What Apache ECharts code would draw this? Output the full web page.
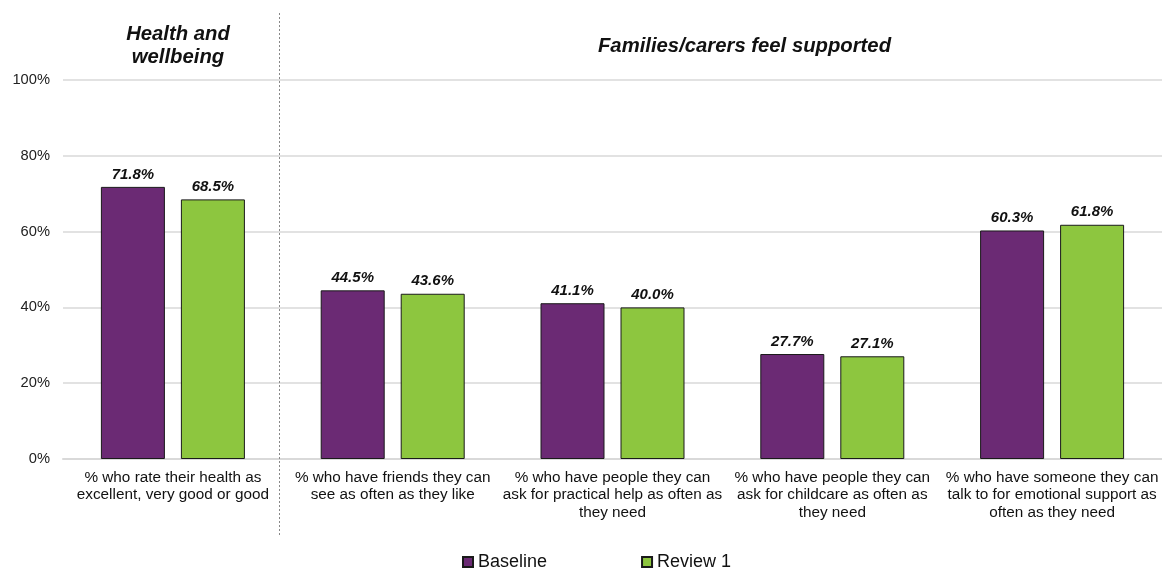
<!DOCTYPE html>
<html>
<head>
<meta charset="utf-8">
<script src="https://cdn.jsdelivr.net/npm/echarts@6/dist/echarts.min.js"></script>
<style>
  html, body { margin: 0; padding: 0; background: #fff; }
  #chart { width: 1162px; height: 572px; }
</style>
</head>
<body>
<div id="chart"></div>
<script>
// Survey indicators (share of respondents), baseline vs first review
const categories = [
  '% who rate their health as\nexcellent, very good or good',
  '% who have friends they can\nsee as often as they like',
  '% who have people they can\nask for practical help as often as\nthey need',
  '% who have people they can\nask for childcare as often as\nthey need',
  '% who have someone they can\ntalk to for emotional support as\noften as they need'
];
const baseline = [71.8, 44.5, 41.1, 27.7, 60.3];
const review1 = [68.5, 43.6, 40.0, 27.1, 61.8];
const yTicks = [0, 20, 40, 60, 80, 100];
const sectionTitles = ['Health and\nwellbeing', 'Families/carers feel supported'];

const FONT = '"Liberation Sans", Arial, sans-serif';
const chart = echarts.init(document.getElementById('chart'));

const labelStyle = {
  show: true,
  position: 'top',
  distance: 5,
  fontFamily: FONT,
  fontSize: 15,
  fontWeight: 'bold',
  fontStyle: 'italic',
  color: '#111',
  formatter: p => p.value.toFixed(1) + '%'
};

const titleStyle = {
  fontFamily: FONT,
  fontSize: 20.3,
  fontWeight: 'bold',
  fontStyle: 'italic',
  lineHeight: 23,
  fill: '#111',
  align: 'center',
  verticalAlign: 'middle'
};

chart.setOption({
  animation: false,
  textStyle: { fontFamily: FONT },
  grid: { left: 63, top: 80, width: 1104, height: 379, containLabel: false },
  legend: {
    top: 548,
    left: 457,
    itemWidth: 10,
    itemHeight: 10,
    itemGap: 94,
    icon: 'rect',
    textStyle: { fontFamily: FONT, fontSize: 18, color: '#111' },
    data: ['Baseline', 'Review 1']
  },
  xAxis: {
    type: 'category',
    data: categories,
    axisLine: { lineStyle: { color: '#d9d9d9', width: 2 } },
    axisTick: { show: false },
    axisLabel: {
      interval: 0,
      margin: 10,
      fontFamily: FONT,
      fontSize: 15.3,
      lineHeight: 17.5,
      color: '#111'
    }
  },
  yAxis: {
    type: 'value',
    min: yTicks[0],
    max: yTicks[yTicks.length - 1],
    interval: 20,
    axisLine: { show: false },
    axisTick: { show: false },
    splitLine: { lineStyle: { color: '#d9d9d9', width: 1.5 } },
    axisLabel: {
      margin: 13,
      fontFamily: FONT,
      fontSize: 14.7,
      color: '#222',
      formatter: v => v + '%'
    }
  },
  graphic: [
    {
      type: 'line',
      shape: { x1: 279.5, y1: 13, x2: 279.5, y2: 535 },
      style: { stroke: '#888', lineWidth: 1, lineDash: [2, 2] },
      z: 10
    },
    {
      type: 'text',
      x: 178,
      y: 46,
      style: Object.assign({ text: sectionTitles[0] }, titleStyle)
    },
    {
      type: 'text',
      x: 744.5,
      y: 46,
      style: Object.assign({ text: sectionTitles[1] }, titleStyle)
    }
  ],
  series: [
    {
      name: 'Baseline',
      type: 'bar',
      data: baseline,
      barWidth: 64,
      barGap: '25%',
      itemStyle: { color: '#6b2a74', borderColor: '#1a1a1a', borderWidth: 1 },
      label: labelStyle
    },
    {
      name: 'Review 1',
      type: 'bar',
      data: review1,
      barWidth: 64,
      itemStyle: { color: '#8dc63f', borderColor: '#1a1a1a', borderWidth: 1 },
      label: labelStyle
    }
  ]
});
</script>
</body>
</html>
